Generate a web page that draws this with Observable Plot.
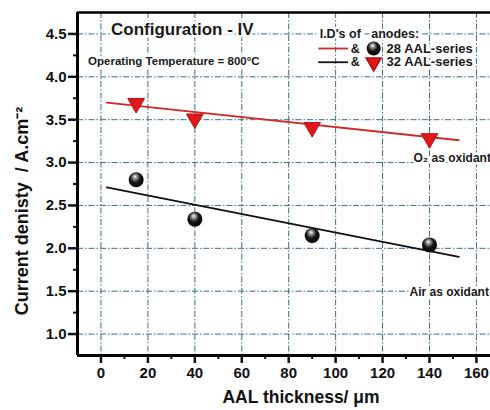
<!DOCTYPE html>
<html><head><meta charset="utf-8">
<script src="https://cdn.jsdelivr.net/npm/d3@7"></script>
<script src="https://cdn.jsdelivr.net/npm/@observablehq/plot@0.6"></script>
<style>body{margin:0;background:#fff} svg{font-family:"Liberation Sans",Arial,sans-serif}</style>
</head><body><div id="chart"></div>
<script>
// Data
const thickness = [15, 40, 90, 140];
const airDensity = [2.80, 2.34, 2.15, 2.04];
const o2Density = [3.69, 3.51, 3.41, 3.28];
const fitX = [2.5, 152.5];
const o2Fit = [3.70, 3.26];
const airFit = [2.71, 1.90];
const xTicks = [0, 20, 40, 60, 80, 100, 120, 140, 160];
const xMinor = [10, 30, 50, 70, 90, 110, 130, 150];
const yTicks = [1.0, 1.5, 2.0, 2.5, 3.0, 3.5, 4.0, 4.5];
const yMinor = [1.25, 1.75, 2.25, 2.75, 3.25, 3.75, 4.25];
const xLabel = "AAL thickness/ \u03bcm";
const yLabel = "Current denisty  / A.cm\u207b\u00b2";
const notes = [
  {text: "Configuration - IV", x: 4.3, y: 4.547, size: 17},
  {text: "Operating Temperature = 800\u00b0C", x: -5.5, y: 4.185, size: 11.5},
  {text: "I.D's of \u00a0\u00a0anodes:", x: 93.2, y: 4.50, size: 12.5},
  {text: "&", x: 106.4, y: 4.33, size: 12.5},
  {text: "28 AAL-series", x: 121.7, y: 4.33, size: 13},
  {text: "&", x: 106.4, y: 4.17, size: 12.5},
  {text: "32 AAL-series", x: 121.7, y: 4.17, size: 13},
  {text: "O\u2082 as oxidant", x: 133.2, y: 3.053, size: 12},
  {text: "Air as oxidant", x: 131.5, y: 1.49, size: 12}
];
const legendLineX = [92.8, 105.5];
const legendRows = [4.33, 4.17];
const legendSymbolX = 116.2;

const airRows = thickness.map((x, i) => ({x, y: airDensity[i]}));
const o2Rows = thickness.map((x, i) => ({x, y: o2Density[i]}));
const o2FitRows = fitX.map((x, i) => ({x, y: o2Fit[i]}));
const airFitRows = fitX.map((x, i) => ({x, y: airFit[i]}));

const gridColor = "#36708a";
const dash = "6,2,1.5,2";
const red = "#e0181c";

const defs = () => {
  const d = document.createElementNS("http://www.w3.org/2000/svg", "defs");
  d.innerHTML = `<radialGradient id="sphere" cx="0.45" cy="0.4" r="0.6" fx="0.42" fy="0.28">
    <stop offset="0" stop-color="#ffffff"/><stop offset="0.22" stop-color="#999"/>
    <stop offset="0.55" stop-color="#1a1a1a"/><stop offset="1" stop-color="#000"/></radialGradient>`;
  return d;
};

const chart = Plot.plot({
  width: 490, height: 410,
  marginLeft: 77, marginRight: 0, marginTop: 12, marginBottom: 55,
  style: {fontFamily: "'Liberation Sans', Arial, sans-serif", color: "#111", background: "#fff"},
  x: {domain: [-10, 166]},
  y: {domain: [0.75, 4.75]},
  marks: [
    defs,
    Plot.ruleX(xTicks, {stroke: gridColor, strokeWidth: 1, strokeDasharray: dash}),
    Plot.ruleY(yTicks, {stroke: gridColor, strokeWidth: 1, strokeDasharray: dash}),
    Plot.text(notes, {x: "x", y: "y", text: "text", fontSize: d => d.size, fontWeight: "bold",
      textAnchor: "start", fill: "#1a1a1a", stroke: "white", strokeWidth: 5, paintOrder: "stroke"}),
    Plot.line(o2FitRows, {x: "x", y: "y", stroke: "#cf2a2a", strokeWidth: 1.8}),
    Plot.line(airFitRows, {x: "x", y: "y", stroke: "#111", strokeWidth: 1.8}),
    Plot.ruleY([legendRows[0]], {x1: legendLineX[0], x2: legendLineX[1], stroke: "#cf2a2a", strokeWidth: 1.8}),
    Plot.ruleY([legendRows[1]], {x1: legendLineX[0], x2: legendLineX[1], stroke: "#111", strokeWidth: 1.8}),
    Plot.dot(airRows, {x: "x", y: "y", r: 7.5, fill: "url(#sphere)"}),
    Plot.dot(o2Rows, {x: "x", y: "y", r: 6.2, symbol: "triangle", rotate: 180, fill: red, stroke: "#b01010", strokeWidth: 1}),
    Plot.dot([{x: legendSymbolX, y: legendRows[0]}], {x: "x", y: "y", r: 7, fill: "url(#sphere)"}),
    Plot.dot([{x: legendSymbolX, y: legendRows[1]}], {x: "x", y: "y", r: 5.6, symbol: "triangle", rotate: 180, fill: red, stroke: "#b01010"}),
    Plot.axisX(xTicks, {tickSize: 8, tickPadding: 4, fontSize: 15, fontWeight: "bold", strokeWidth: 2.5, label: null, fill: "#111"}),
    Plot.axisX(xMinor, {tickSize: 4, strokeWidth: 2, tickFormat: () => "", label: null}),
    Plot.axisY(yTicks, {tickSize: 9, tickPadding: 2, fontSize: 15, fontWeight: "bold", strokeWidth: 2.5, tickFormat: d3.format(".1f"), label: null, fill: "#111"}),
    Plot.axisY(yMinor, {tickSize: 4, strokeWidth: 2, tickFormat: () => "", label: null}),
    Plot.ruleX([-10], {stroke: "#000", strokeWidth: 3}),
    Plot.ruleY([0.75], {stroke: "#000", strokeWidth: 3}),
    Plot.ruleY([4.75], {stroke: "#000", strokeWidth: 2.5}),
    Plot.text([xLabel], {frameAnchor: "bottom", dy: 47, dx: 17, fontSize: 17.5, fontWeight: "bold", fill: "#111"}),
    Plot.text([yLabel], {frameAnchor: "left", textAnchor: "middle", rotate: -90, dx: -55, dy: 27, fontSize: 18, fontWeight: "bold", fill: "#111"})
  ]
});
document.getElementById("chart").append(chart);
</script>
</body></html>
